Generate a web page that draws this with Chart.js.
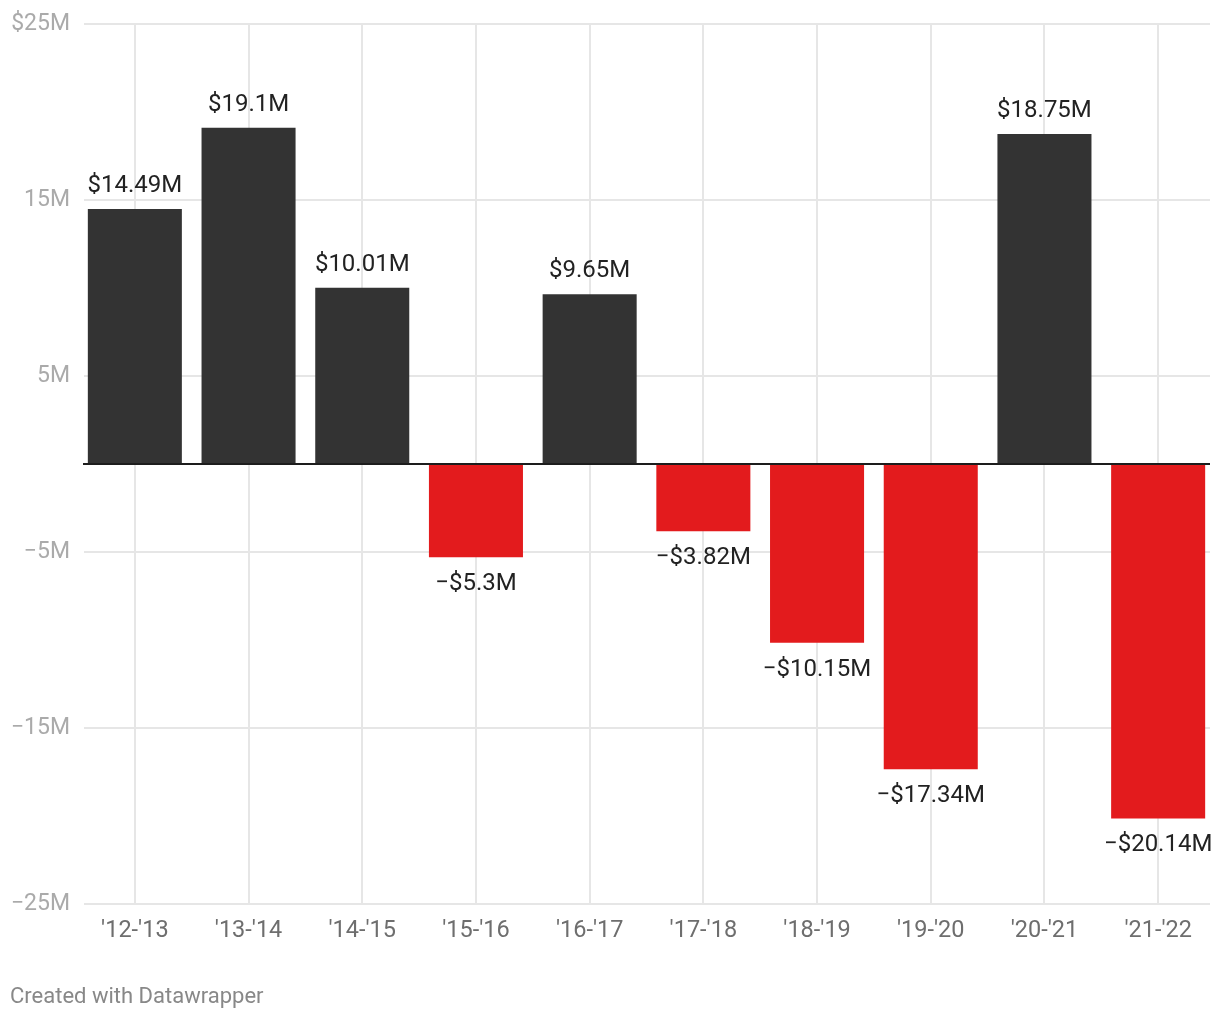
<!DOCTYPE html>
<html>
<head>
<meta charset="utf-8">
<script src="https://cdn.jsdelivr.net/npm/chart.js@4"></script>
<style>
  body { margin: 0; background: #fff; }
  #wrap { width: 1220px; height: 1020px; position: relative; }
</style>
</head>
<body>
<div id="wrap"><canvas id="myBarChart"></canvas></div>
<script>
// Budget surplus / deficit by fiscal year (millions of dollars)
const labels = ["'12-'13", "'13-'14", "'14-'15", "'15-'16", "'16-'17", "'17-'18", "'18-'19", "'19-'20", "'20-'21", "'21-'22"];
const values = [14.49, 19.1, 10.01, -5.3, 9.65, -3.82, -10.15, -17.34, 18.75, -20.14];
const yTicks = [-25, -15, -5, 5, 15, 25];

const MINUS = '\u2212';
function money(v) {
    return (v < 0 ? MINUS : '') + '$' + Math.abs(v) + 'M';
}
function tickLabel(v) {
    if (v === 25) return '$25M';
    return (v < 0 ? MINUS : '') + Math.abs(v) + 'M';
}

// gridlines, zero line, value labels, footer
const extras = {
    id: 'extras',
    beforeDatasetsDraw(chart) {
        const ctx = chart.ctx, y = chart.scales.y;
        ctx.save();
        ctx.strokeStyle = '#e6e6e6';
        ctx.lineWidth = 2;
        yTicks.forEach(function (t) {
            const py = Math.round(y.getPixelForValue(t));
            ctx.beginPath();
            ctx.moveTo(84, py);
            ctx.lineTo(1210, py);
            ctx.stroke();
        });
        ctx.restore();
    },
    afterDatasetsDraw(chart) {
        const ctx = chart.ctx, y = chart.scales.y;
        ctx.save();
        const zy = Math.round(y.getPixelForValue(0));
        ctx.strokeStyle = '#1d1d1d';
        ctx.lineWidth = 2;
        ctx.beginPath();
        ctx.moveTo(83, zy);
        ctx.lineTo(1210, zy);
        ctx.stroke();

        ctx.font = '24px Roboto';
        ctx.fillStyle = '#222';
        ctx.textAlign = 'center';
        ctx.textBaseline = 'middle';
        chart.getDatasetMeta(0).data.forEach(function (bar, i) {
            const v = values[i];
            const ty = v >= 0 ? bar.y - 23 : bar.y + 27;
            ctx.fillText(money(v), bar.x, ty);
        });

        ctx.font = '22px Roboto';
        ctx.fillStyle = '#888';
        ctx.textAlign = 'left';
        ctx.fillText('Created with Datawrapper', 10, 997);
        ctx.restore();
    }
};

const myChart = new Chart(document.getElementById('myBarChart'), {
    type: 'bar',
    data: {
        labels: labels,
        datasets: [{
            data: values,
            backgroundColor: values.map(v => v >= 0 ? '#333333' : '#e31b1d'),
            barPercentage: 0.827,
            categoryPercentage: 1
        }]
    },
    options: {
        responsive: true,
        maintainAspectRatio: false,
        animation: false,
        layout: { padding: { top: 24, right: 5, left: 0, bottom: 0 } },
        plugins: {
            legend: { display: false },
            tooltip: { enabled: false }
        },
        scales: {
            x: {
                offset: true,
                grid: { offset: false, color: '#e6e6e6', lineWidth: 2, drawTicks: false },
                border: { display: false },
                ticks: { color: '#6e6e6e', font: { family: 'Roboto', size: 23.5 }, padding: 13, maxRotation: 0 },
                afterFit(scale) { scale.height = 116; }
            },
            y: {
                min: -25,
                max: 25,
                grid: { display: false, drawTicks: false },
                border: { display: false },
                afterBuildTicks(scale) { scale.ticks = yTicks.map(v => ({ value: v })); },
                ticks: {
                    color: '#aaaaaa',
                    font: { family: 'Roboto', size: 23 },
                    padding: 8,
                    callback: v => tickLabel(v)
                },
                afterFit(scale) { scale.width = 78; }
            }
        }
    },
    plugins: [extras]
});
</script>
</body>
</html>
